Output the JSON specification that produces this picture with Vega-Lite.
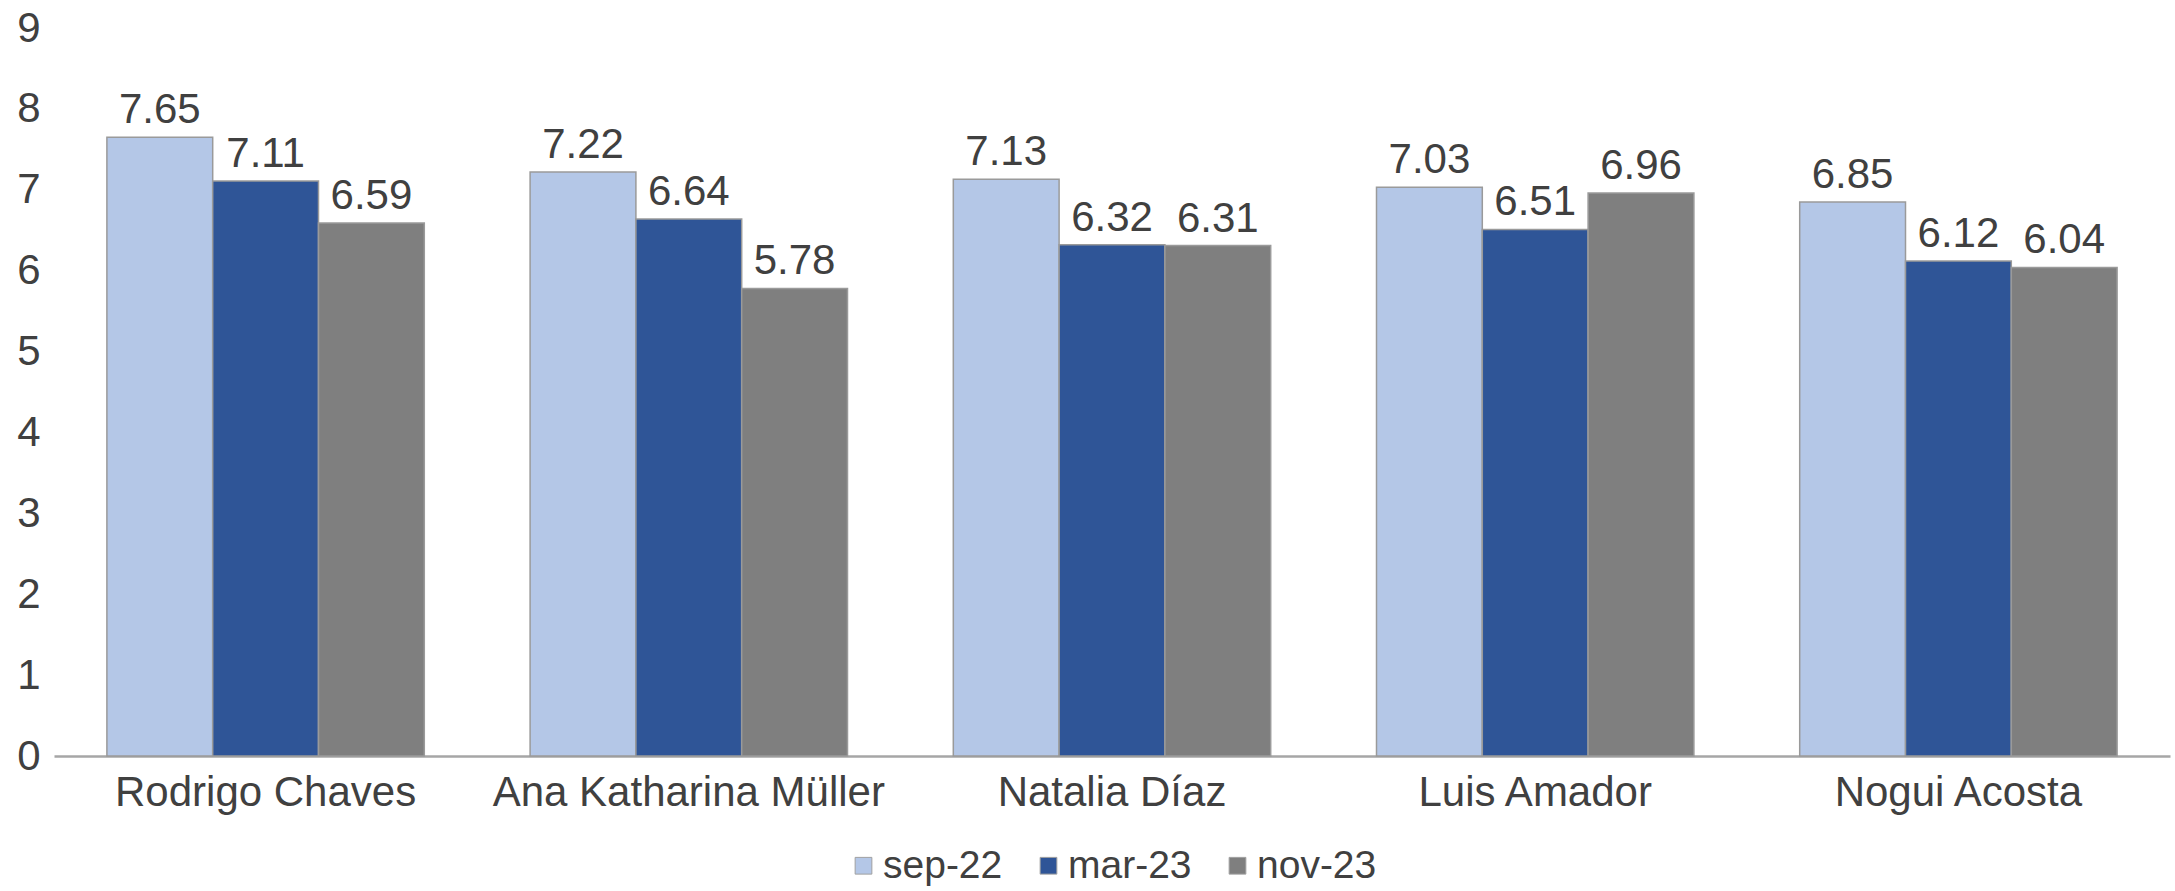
{
  "$schema": "https://vega.github.io/schema/vega-lite/v6.json",
  "width": 2116,
  "height": 728,
  "autosize": {"type": "none"},
  "padding": {"left": 54, "top": 28, "right": 5, "bottom": 135},
  "background": "white",
  "config": {
    "view": {"stroke": null},
    "font": "Liberation Sans",
    "text": {"font": "Liberation Sans"}
  },
  "data": {
    "values": [
      {"candidato": "Rodrigo Chaves", "fecha": "sep-22", "valor": 7.65},
      {"candidato": "Rodrigo Chaves", "fecha": "mar-23", "valor": 7.11},
      {"candidato": "Rodrigo Chaves", "fecha": "nov-23", "valor": 6.59},
      {"candidato": "Ana Katharina Müller", "fecha": "sep-22", "valor": 7.22},
      {"candidato": "Ana Katharina Müller", "fecha": "mar-23", "valor": 6.64},
      {"candidato": "Ana Katharina Müller", "fecha": "nov-23", "valor": 5.78},
      {"candidato": "Natalia Díaz", "fecha": "sep-22", "valor": 7.13},
      {"candidato": "Natalia Díaz", "fecha": "mar-23", "valor": 6.32},
      {"candidato": "Natalia Díaz", "fecha": "nov-23", "valor": 6.31},
      {"candidato": "Luis Amador", "fecha": "sep-22", "valor": 7.03},
      {"candidato": "Luis Amador", "fecha": "mar-23", "valor": 6.51},
      {"candidato": "Luis Amador", "fecha": "nov-23", "valor": 6.96},
      {"candidato": "Nogui Acosta", "fecha": "sep-22", "valor": 6.85},
      {"candidato": "Nogui Acosta", "fecha": "mar-23", "valor": 6.12},
      {"candidato": "Nogui Acosta", "fecha": "nov-23", "valor": 6.04}
    ]
  },
  "encoding": {
    "x": {
      "field": "candidato",
      "type": "nominal",
      "sort": ["Rodrigo Chaves", "Ana Katharina Müller", "Natalia Díaz", "Luis Amador", "Nogui Acosta"],
      "scale": {"paddingInner": 0.25, "paddingOuter": 0.125},
      "axis": {
        "title": null,
        "labelAngle": 0,
        "labelFontSize": 42,
        "labelLimit": 0,
        "labelColor": "#404040",
        "labelFont": "Liberation Sans",
        "labelPadding": 16,
        "ticks": false,
        "domainColor": "#A6A6A6",
        "domainWidth": 2.5,
        "grid": false
      }
    },
    "xOffset": {
      "field": "fecha",
      "type": "nominal",
      "sort": ["sep-22", "mar-23", "nov-23"],
      "scale": {"paddingInner": 0, "paddingOuter": 0}
    },
    "y": {
      "field": "valor",
      "type": "quantitative",
      "scale": {"domain": [0, 9], "nice": false},
      "axis": {
        "title": null,
        "values": [0, 1, 2, 3, 4, 5, 6, 7, 8, 9],
        "labelFontSize": 42,
        "labelColor": "#404040",
        "labelFont": "Liberation Sans",
        "labelPadding": 14,
        "ticks": false,
        "domain": false,
        "grid": false
      }
    },
    "color": {
      "field": "fecha",
      "type": "nominal",
      "sort": ["sep-22", "mar-23", "nov-23"],
      "scale": {"domain": ["sep-22", "mar-23", "nov-23"], "range": ["#B4C7E7", "#2F5597", "#7F7F7F"]},
      "legend": {
        "title": null,
        "orient": "none",
        "direction": "horizontal",
        "legendX": 790,
        "legendY": 818,
        "symbolType": "square",
        "symbolSize": 280,
        "symbolStrokeColor": "#A0A0A0",
        "symbolStrokeWidth": 1,
        "labelFontSize": 39,
        "labelColor": "#404040",
        "labelFont": "Liberation Sans",
        "labelOffset": 0,
        "columnPadding": 26
      }
    }
  },
  "layer": [
    {
      "mark": {"type": "bar", "stroke": "#9A9A9A", "strokeWidth": 1.5}
    },
    {
      "mark": {"type": "text", "baseline": "bottom", "dy": -5, "fontSize": 42, "color": "#404040", "font": "Liberation Sans"},
      "encoding": {
        "text": {"field": "valor", "type": "quantitative", "format": ".2f"},
        "color": {"value": "#404040"}
      }
    }
  ]
}
